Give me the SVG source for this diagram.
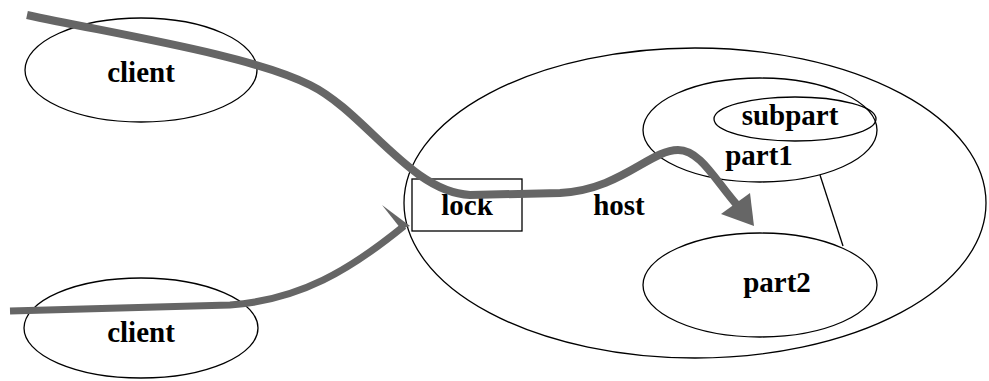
<svg xmlns="http://www.w3.org/2000/svg" width="989" height="381" viewBox="0 0 989 381">
<style>
.n{fill:none;stroke:#000;stroke-width:1.3}
.t{font-family:"Liberation Serif","Times New Roman",serif;font-weight:bold;font-size:29px;fill:#000;text-anchor:middle}
.a{fill:none;stroke:#666;stroke-width:8;stroke-linecap:butt}
.h{fill:#666;stroke:none}
</style>
<rect width="989" height="381" fill="#fff"/>
<g id="host"><ellipse class="n" cx="695" cy="203" rx="291" ry="155"/><text class="t" x="619" y="215">host</text></g>
<g id="client1"><ellipse class="n" cx="141" cy="70" rx="116" ry="52"/><text class="t" x="141" y="82">client</text></g>
<g id="client2"><ellipse class="n" cx="141" cy="328" rx="117" ry="50"/><text class="t" x="141" y="342">client</text></g>
<g id="lock"><rect class="n" x="412" y="179" width="110" height="52"/><text class="t" x="467" y="215">lock</text></g>
<g id="part1"><ellipse class="n" cx="760" cy="130" rx="117" ry="52"/><text class="t" x="759" y="165">part1</text></g>
<g id="subpart"><ellipse class="n" cx="795" cy="119" rx="81" ry="22"/><text class="t" x="790" y="125">subpart</text></g>
<g id="part2"><ellipse class="n" cx="760" cy="285" rx="117" ry="52"/><text class="t" x="777" y="292">part2</text></g>
<g id="connectors">
<line x1="820" y1="175" x2="843" y2="246" stroke="#000" stroke-width="1.3"/>
<path class="a" d="M27,15 C120,35 250,55 310,85 C365,112 410,192 470,195 L560,193 C620,190 650,150 678,150 C700,150 715,180 737,205"/>
<polygon class="h" points="721,214 750,193 754,226"/>
<path class="a" style="stroke-width:7" d="M10,311 L230,305 C300,300 350,270 404,226"/>
<polygon class="h" points="382,205 410,226 401,229"/>
</g>
</svg>
